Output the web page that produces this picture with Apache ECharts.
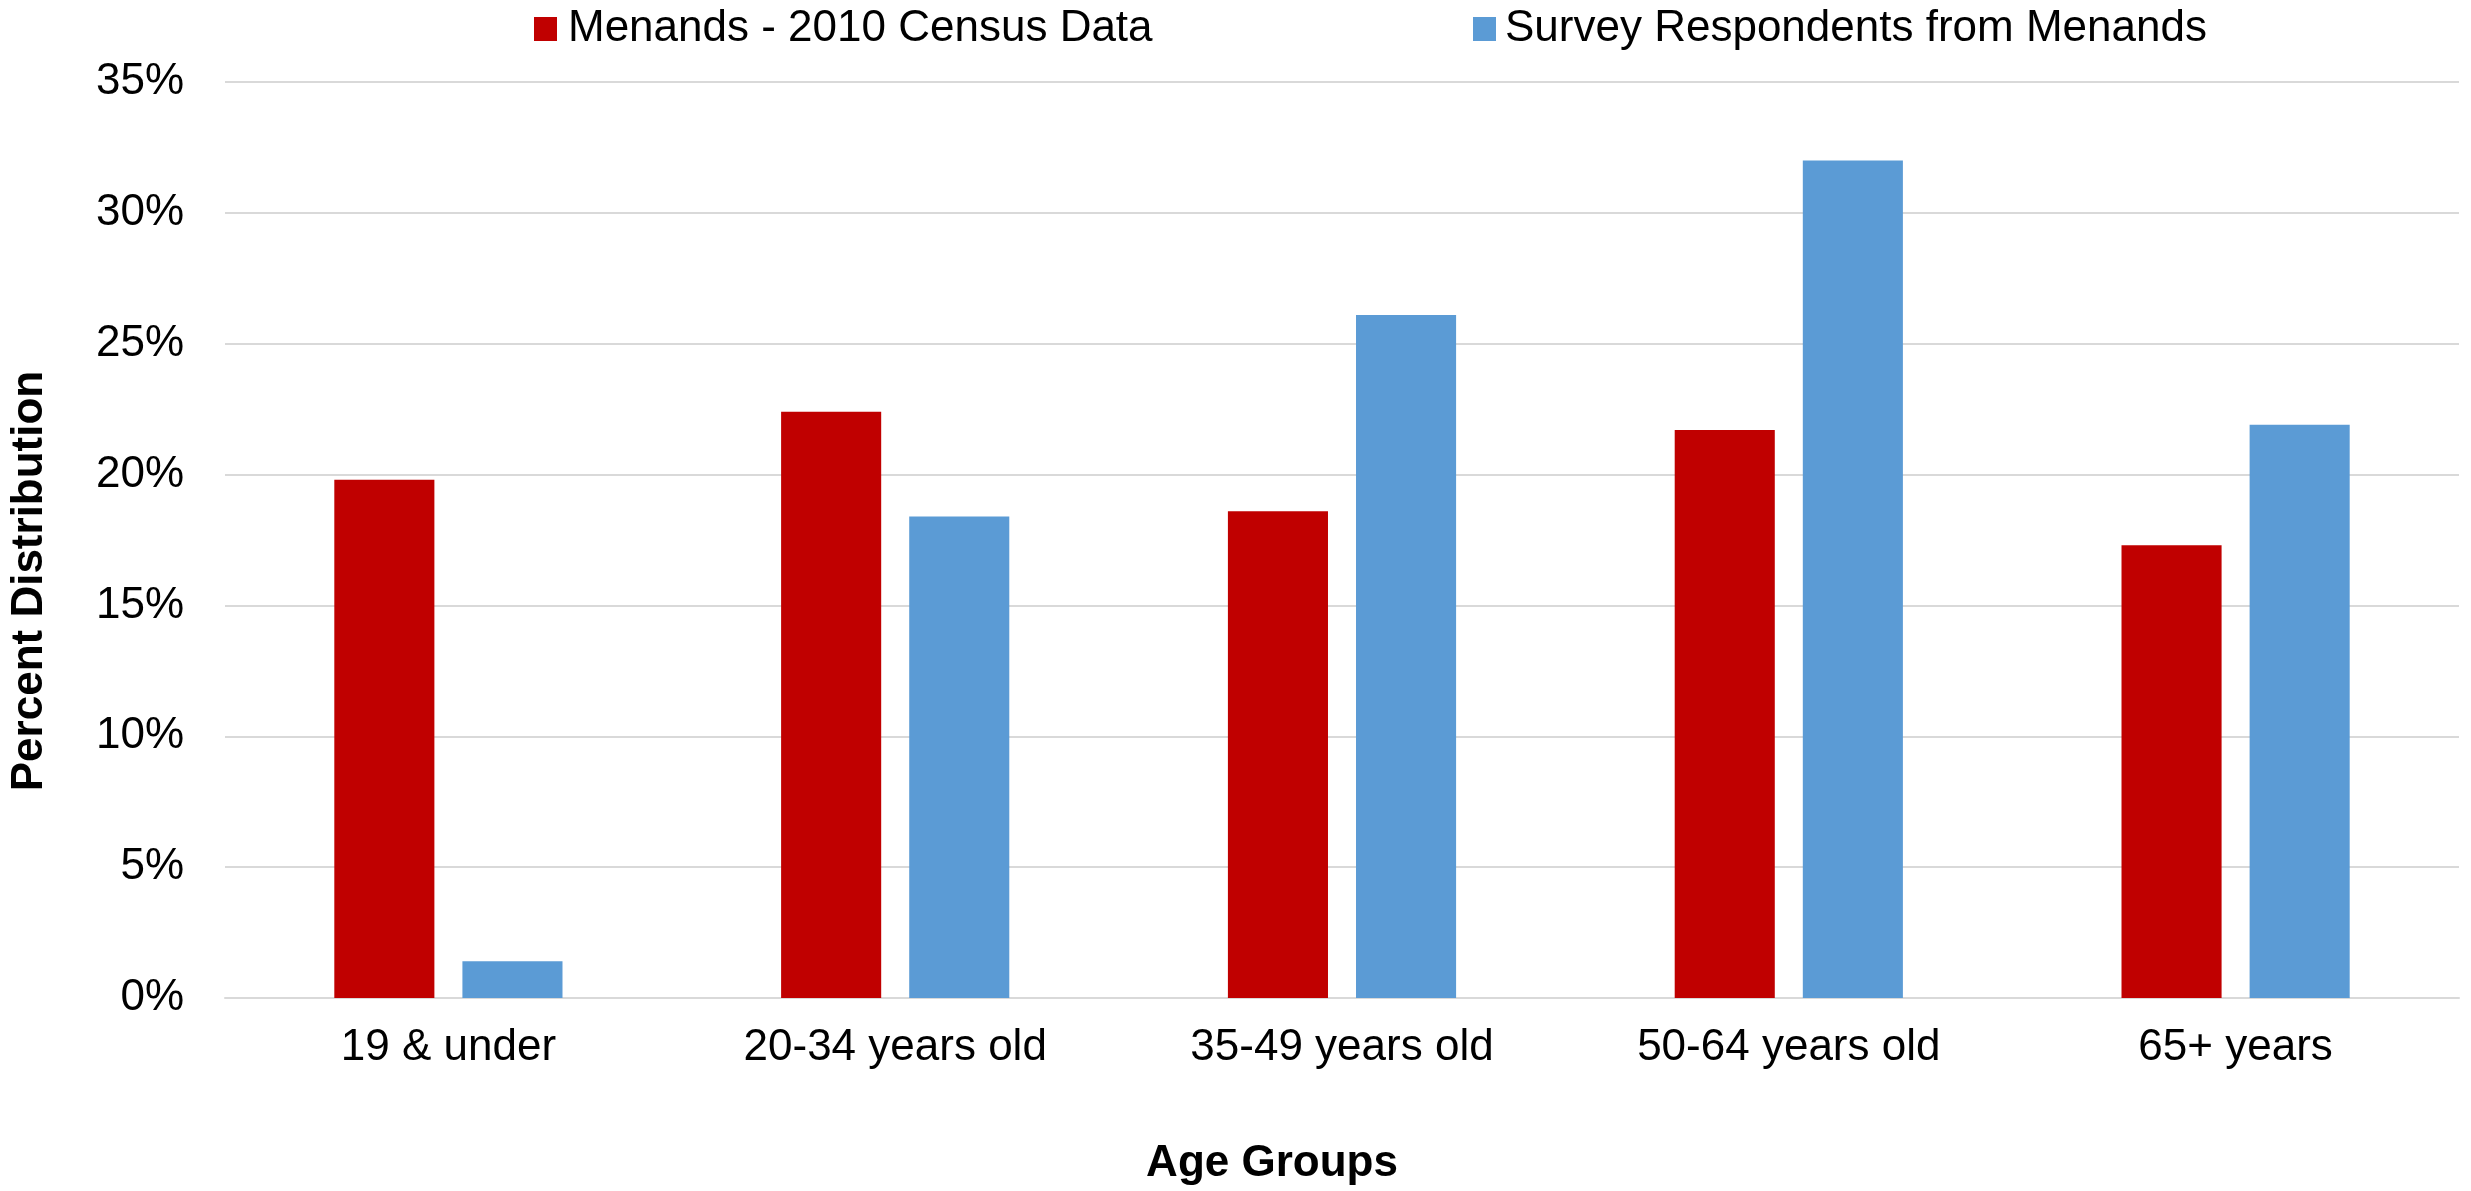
<!DOCTYPE html>
<html>
<head>
<meta charset="utf-8">
<script src="https://cdn.jsdelivr.net/npm/echarts@6/dist/echarts.min.js"></script>
<style>
  html, body { margin: 0; padding: 0; background: #fff; }
  #chart { width: 2471px; height: 1191px; }
</style>
</head>
<body>
<div id="chart"></div>
<script>
// age groups on the x axis
const ageGroups = ['19 & under', '20-34 years old', '35-49 years old', '50-64 years old', '65+ years']
const seriesNames = ['Menands - 2010 Census Data', 'Survey Respondents from Menands']
// percent values
const censusData = [19.8, 22.4, 18.6, 21.7, 17.3]
const surveyData = [1.4, 18.4, 26.1, 32.0, 21.9]

const font = 'Liberation Sans, Arial, sans-serif'

var myChart = echarts.init(document.getElementById('chart'))
var option = {
  backgroundColor: '#fff',
  textStyle: { fontFamily: font },
  legend: [
    {
      data: [seriesNames[0]],
      left: 534,
      top: 7,
      padding: 0,
      itemWidth: 23,
      itemHeight: 24,
      icon: 'rect',
      textStyle: { fontSize: 44, color: '#000', fontFamily: font, padding: [0, 0, 0, 6] }
    },
    {
      data: [seriesNames[1]],
      left: 1473,
      top: 7,
      padding: 0,
      itemWidth: 23,
      itemHeight: 24,
      icon: 'rect',
      textStyle: { fontSize: 44, color: '#000', fontFamily: font, padding: [0, 0, 0, 4] }
    }
  ],
  grid: {
    left: 225,
    right: 12,
    top: 82,
    bottom: 190,
    containLabel: false
  },
  xAxis: {
    type: 'category',
    data: ageGroups,
    name: 'Age Groups',
    nameLocation: 'middle',
    nameGap: 144,
    nameTextStyle: { fontSize: 44, fontWeight: 'bold', color: '#000', fontFamily: font, padding: [0, 140, 0, 0] },
    axisLine: { show: true, lineStyle: { color: '#d9d9d9', width: 2 } },
    axisTick: { show: false },
    axisLabel: { fontSize: 44, color: '#000', margin: 28, fontFamily: font }
  },
  yAxis: {
    type: 'value',
    min: 0,
    max: 35,
    interval: 5,
    name: 'Percent Distribution',
    nameLocation: 'middle',
    nameGap: 173,
    nameTextStyle: { fontSize: 44, fontWeight: 'bold', color: '#000', fontFamily: font, padding: [0, 82, 0, 0] },
    axisLine: { show: false },
    axisTick: { show: false },
    axisLabel: { fontSize: 44, color: '#000', margin: 41, formatter: '{value}%', fontFamily: font },
    splitLine: { lineStyle: { color: '#d9d9d9', width: 2 } }
  },
  series: [
    {
      name: seriesNames[0],
      type: 'bar',
      data: censusData,
      barWidth: '22.4%',
      barGap: '28%',
      itemStyle: { color: '#C00000' }
    },
    {
      name: seriesNames[1],
      type: 'bar',
      data: surveyData,
      barWidth: '22.4%',
      itemStyle: { color: '#5B9BD5' }
    }
  ]
}
myChart.setOption(option)
</script>
</body>
</html>
